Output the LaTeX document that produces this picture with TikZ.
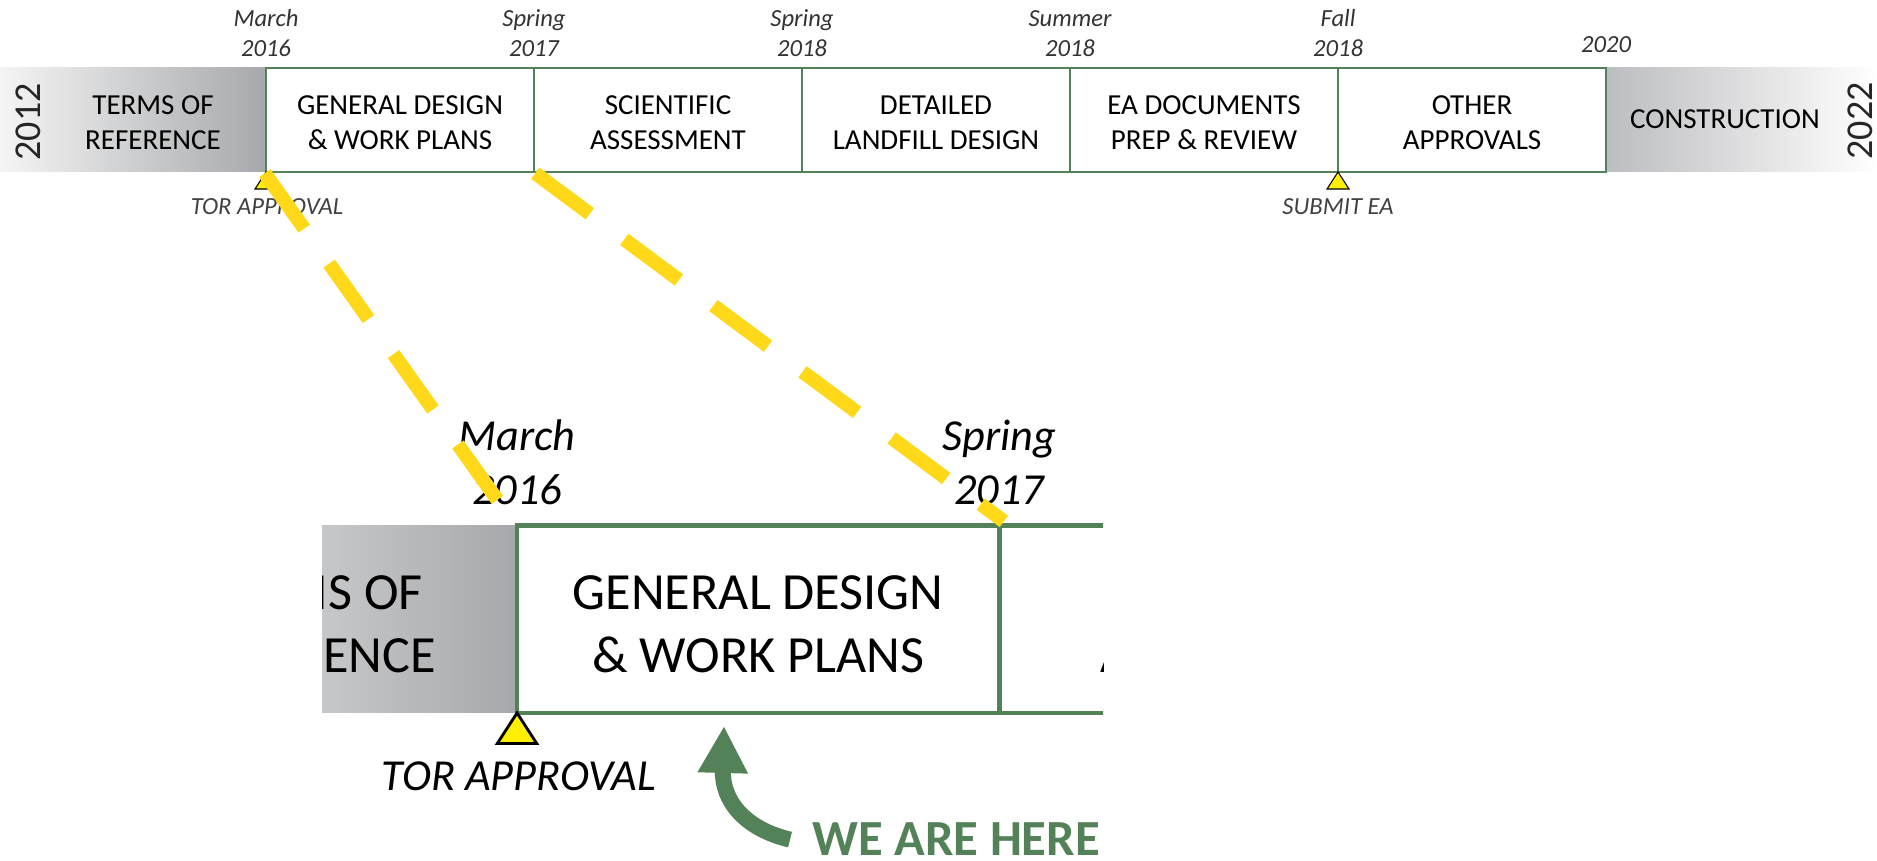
\documentclass[tikz,border=0pt]{standalone}
\usepackage{fontspec}
\setmainfont{Carlito}
\usetikzlibrary{positioning}
\usetikzlibrary{arrows.meta}

\definecolor{tlgreen}{RGB}{84,130,88}
\definecolor{tlgray}{RGB}{166,168,171}
\definecolor{tlgrayr}{RGB}{188,189,192}
\definecolor{tlgold}{RGB}{255,216,26}
\definecolor{tlyellow}{RGB}{255,240,0}

\begin{document}
\begin{tikzpicture}[
    phasebox/.style={draw=tlgreen, line width=0.7pt, minimum width=2.68cm, minimum height=1.04cm,
      inner sep=0pt, align=center, text height=17pt, font=\fontsize{8.25}{10}\selectfont},
    plainbox/.style={inner sep=0pt, align=center, font=\fontsize{8.25}{10}\selectfont},
    datelbl/.style={anchor=south, inner sep=0pt, align=center, text=black!80,
      font=\fontsize{7}{8.5}\selectfont\itshape},
    mslbl/.style={anchor=base, inner sep=0pt, text=black!75, font=\fontsize{7}{8.5}\selectfont\itshape},
    msmark/.style={draw=black, fill=tlyellow, line width=0.3pt},
    yearlbl/.style={inner sep=0pt, rotate=90, text=black!85, font=\fontsize{10.8}{12}\selectfont},
    zoomline/.style={tlgold, line width=0.14cm, dash pattern=on 0.68cm off 0.43cm}
  ]
  \useasboundingbox (0,0) rectangle (18.77,8.61);

  % timeline bar
  \shade[left color=black!4, right color=tlgray] (0,6.89) rectangle (2.66,7.93);
  \shade[left color=tlgrayr, right color=white] (16.06,6.89) rectangle (18.77,7.93);
  \node[plainbox, text height=17pt] (tor) at (1.53,7.41) {TERMS OF\\REFERENCE};
  \node[plainbox] (con) at (17.25,7.42) {CONSTRUCTION};
  \foreach \n/\x/\t in {gdw/4.00/{GENERAL DESIGN\\\& WORK PLANS}, sci/6.68/{SCIENTIFIC\\ASSESSMENT},
      dld/9.36/{DETAILED\\LANDFILL DESIGN}, ead/12.04/{EA DOCUMENTS\\PREP \& REVIEW},
      oth/14.72/{OTHER\\APPROVALS}} {
    \node[phasebox] (\n) at (\x,7.41) {\t};
  }
  \node[yearlbl] (y12) at (0.28,7.39) {2012};
  \node[yearlbl] (y22) at (18.60,7.40) {2022};

  \foreach \n/\x/\t in {d1/2.66/{March\\2016}, d2/5.34/{Spring\\2017}, d3/8.02/{Spring\\2018},
      d4/10.70/{Summer\\2018}, d5/13.38/{Fall\\2018}} {
    \node[datelbl] (\n) at (\x,8.04) {\t};
  }
  \node[datelbl] (d6) at (16.06,8.08) {2020};

  \draw[msmark] (2.66,6.89) -- ++(-0.11,-0.17) -- ++(0.22,0) -- cycle;
  \draw[msmark] (13.38,6.89) -- ++(-0.11,-0.17) -- ++(0.22,0) -- cycle;
  \node[mslbl] (torok) at (2.67,6.46) {TOR APPROVAL};
  \node[mslbl] (subea) at (13.38,6.46) {SUBMIT EA};

  % zoomed part
  \begin{scope}[shift={(0.382,-10.922)}, scale=1.8, transform shape]
    \clip (1.577,5.5) rectangle (5.916,9.2);
    \shade[left color=black!4, right color=tlgray] (0,6.89) rectangle (2.66,7.93);
    \node[plainbox, text height=17pt] (tor2) at (1.53,7.41) {TERMS OF\\REFERENCE};
    \node[phasebox, line width=1.4pt] (gdw2) at (4.00,7.41) {GENERAL DESIGN\\\& WORK PLANS};
    \node[phasebox, line width=1.4pt] (sci2) at (6.68,7.41) {SCIENTIFIC\\ASSESSMENT};
    \node[datelbl, text=black] (d1z) at (2.66,8.04) {March\\2016};
    \node[datelbl, text=black] (d2z) at (5.34,8.04) {Spring\\2017};
    \draw[msmark, line width=0.8pt] (2.66,6.89) -- ++(-0.11,-0.17) -- ++(0.22,0) -- cycle;
    \node[mslbl, text=black] (torokz) at (2.67,6.46) {TOR APPROVAL};
  \end{scope}

  \node[anchor=base west, inner sep=0pt, text=tlgreen, font=\fontsize{14.4}{17}\selectfont\bfseries]
    (here) at (8.12,0.05) {WE ARE HERE};
  \coordinate (herept) at (7.24,1.35);
  \draw[tlgreen, line width=0.16cm, -{Triangle[length=0.47cm,width=0.47cm]}]
    ([xshift=-0.22cm]here.west) .. controls (7.45,0.32) and (7.22,0.6) .. (herept);

  \draw[zoomline] (gdw.south west) -- (gdw2.north west);
  \draw[zoomline] (gdw.south east) -- (gdw2.north east);
\end{tikzpicture}
\end{document}
